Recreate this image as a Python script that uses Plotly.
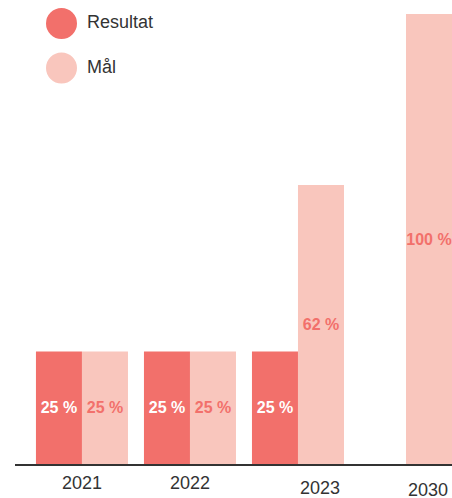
"""
Resultat vs Mål - grouped bar chart
"""

import plotly.graph_objects as go

# Data
years = ["2021", "2022", "2023", "2030"]
resultat = [25, 25, 25, None]
maal = [25, 25, 62, 100]
series_names = ["Resultat", "Mål"]

# Styling
RED = "#F2706B"
PINK = "#F9C6BD"
TEXT = "#333333"
FONT = "Liberation Sans, Arial, sans-serif"

# plot area in pixels (452x498 window)
W, H = 452, 498
L, R, T, B = 15, 0, 14, 34
pw, ph = W - L - R, H - T - B


def px_x(x):
    return (x - L) / pw


def px_y(y):
    return (H - B - y) / ph


def pct(vals):
    return [f"{v} %" if v is not None else "" for v in vals]


fig = go.Figure()
fig.add_trace(go.Bar(
    x=years, y=resultat, name=series_names[0],
    marker=dict(color=RED, line=dict(width=0)),
    text=pct(resultat), textposition="inside", insidetextanchor="middle",
    constraintext="none", textangle=0,
    textfont=dict(family=FONT, size=16, color="white", weight="bold"),
    hoverinfo="skip",
))
fig.add_trace(go.Bar(
    x=years, y=maal, name=series_names[1],
    marker=dict(color=PINK, line=dict(width=0)),
    text=pct(maal), textposition="inside", insidetextanchor="middle",
    constraintext="none", textangle=0,
    textfont=dict(family=FONT, size=16, color=RED, weight="bold"),
    hoverinfo="skip",
))

# custom legend: big circles + labels
legend_rows = [(23.5, RED), (68, PINK)]
for (cy, col), name in zip(legend_rows, series_names):
    fig.add_shape(type="circle", xref="paper", yref="paper",
                  xsizemode="pixel", ysizemode="pixel",
                  xanchor=px_x(61.5), yanchor=px_y(cy),
                  x0=-15.5, x1=15.5, y0=-15.5, y1=15.5,
                  fillcolor=col, line=dict(width=0))
    fig.add_annotation(text=name, xref="paper", yref="paper",
                       x=px_x(85), y=px_y(cy - 1), xanchor="left", yanchor="middle",
                       showarrow=False, font=dict(family=FONT, size=18, color=TEXT))

# year labels (slightly staggered as in the original)
# category axis -> annotations use the category index
label_offsets = [(0, "center", 19), (0, "center", 19), (0, "left", 24), (0, "left", 26)]
for i, (yr, (dx, anchor, dy)) in enumerate(zip(years, label_offsets)):
    fig.add_annotation(text=yr, x=i, y=0, xref="x", yref="y",
                       xanchor=anchor, yanchor="middle", yshift=-dy, xshift=dx,
                       showarrow=False, font=dict(family=FONT, size=18, color=TEXT))

fig.update_layout(
    width=W, height=H,
    margin=dict(l=L, r=R, t=T, b=B),
    barmode="group", bargap=0.148, bargroupgap=0,
    showlegend=False,
    plot_bgcolor="white", paper_bgcolor="white",
)
fig.update_xaxes(type="category", range=[-0.62, 3.426], showticklabels=False,
                 showgrid=False, zeroline=False, ticks="",
                 showline=True, linecolor=TEXT, linewidth=2)
fig.update_yaxes(range=[0, 100], visible=False, showgrid=False, zeroline=False)

# drop the default page margin so the chart sits at the window origin
fig.write_html("out.html", config={"displayModeBar": False},
               post_script="document.body.style.margin='0';")
